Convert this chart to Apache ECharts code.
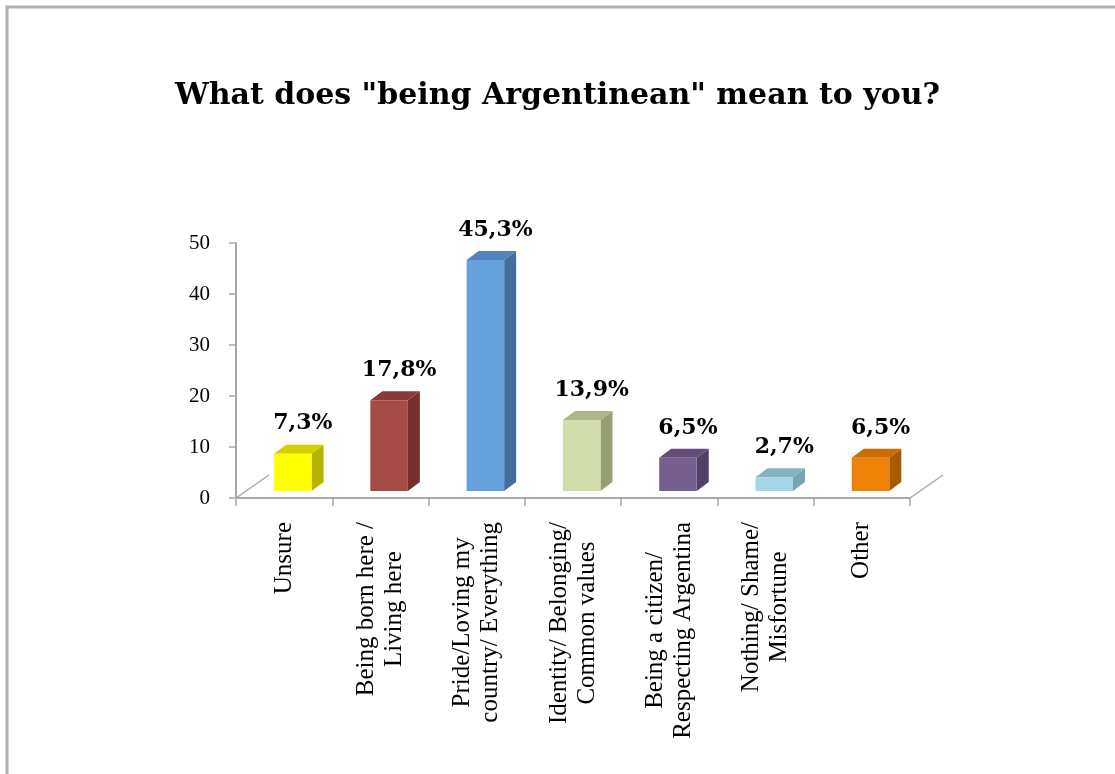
<!DOCTYPE html>
<html>
<head>
<meta charset="utf-8">
<script src="https://cdn.jsdelivr.net/npm/echarts@6/dist/echarts.min.js"></script>
<style>
html,body{margin:0;padding:0;background:#fff;}
#chart{width:1115px;height:774px;}
</style>
</head>
<body>
<div id="chart"></div>
<script>
const titleText = 'What does "being Argentinean" mean to you?';
const categories = [
  'Unsure',
  'Being born here /\nLiving here',
  'Pride/Loving my\ncountry/ Everything',
  'Identity/ Belonging/\nCommon values',
  'Being a citizen/\nRespecting Argentina',
  'Nothing/ Shame/\nMisfortune',
  'Other'
];
const values = [7.3, 17.8, 45.3, 13.9, 6.5, 2.7, 6.5];
const valueLabels = ['7,3%', '17,8%', '45,3%', '13,9%', '6,5%', '2,7%', '6,5%'];
const yMin = 0, yMax = 50, yStep = 10;

const frontColors = ['#FFFF00', '#A54B45', '#64A0DC', '#D0DCAA', '#755F8F', '#A5D6E5', '#EE8208'];
const sideColors  = ['#B8B200', '#76302C', '#436E9C', '#969E72', '#523F66', '#78A4B0', '#A85A00'];
const topColors   = ['#D6CF00', '#8C3A35', '#5383BC', '#AEB68A', '#634C7B', '#86B3C2', '#C96D00'];

const chart = echarts.init(document.getElementById('chart'), null, {renderer: 'canvas'});

function renderBar(params, api) {
  const i = api.value(0);
  const v = api.value(1);
  const base = api.coord([i, 0]);
  const topPt = api.coord([i, v]);
  const band = api.size([1, 0])[0];
  const fw = band * 0.39;
  const shift = band * 0.09;
  const lift = 7, dx = 12, dy = 9;
  const x0 = base[0] + shift - fw / 2, x1 = x0 + fw;
  const yb = base[1] - lift, yt = topPt[1] - lift;
  const children = [
    {type: 'polygon', shape: {points: [[x1, yb], [x1 + dx, yb - dy], [x1 + dx, yt - dy], [x1, yt]]},
     style: {fill: sideColors[i]}},
    {type: 'polygon', shape: {points: [[x0, yt], [x0 + dx, yt - dy], [x1 + dx, yt - dy], [x1, yt]]},
     style: {fill: topColors[i]}},
    {type: 'rect', shape: {x: x0, y: yt, width: fw, height: yb - yt},
     style: {fill: frontColors[i]}},
    {type: 'text', x: (x0 + x1) / 2 + 10, y: yt - dy - 10,
     style: {text: valueLabels[i], align: 'center', verticalAlign: 'bottom',
             font: 'bold 22px "DejaVu Serif"', fill: '#000'}}
  ];
  if (i === 0) {
    children.push({type: 'line', shape: {x1: base[0] - band / 2, y1: base[1], x2: base[0] - band / 2 + 33, y2: base[1] - 23},
      style: {stroke: '#A8A8A8', lineWidth: 1.5}});
  }
  if (i === categories.length - 1) {
    children.push({type: 'line', shape: {x1: base[0] + band / 2, y1: base[1], x2: base[0] + band / 2 + 33, y2: base[1] - 23},
      style: {stroke: '#A8A8A8', lineWidth: 1.5}});
  }
  return {type: 'group', children: children};
}

chart.setOption({
  animation: false,
  backgroundColor: '#fff',
  title: {
    text: titleText,
    left: 'center',
    top: 76,
    textStyle: {fontFamily: 'DejaVu Serif', fontWeight: 'bold', fontSize: 30, color: '#000'}
  },
  graphic: [{
    type: 'polyline',
    shape: {points: [[7, 800], [7, 7], [1200, 7]]},
    style: {stroke: '#B0B0B0', lineWidth: 3, fill: null}
  }],
  grid: {left: 236, right: 205, top: 243, bottom: 276},
  xAxis: {
    type: 'category',
    data: categories,
    axisLine: {lineStyle: {color: '#A8A8A8', width: 2}},
    axisTick: {show: true, length: 8, interval: 0, lineStyle: {color: '#A8A8A8', width: 1.5}},
    axisLabel: {
      interval: 0,
      rotate: 90,
      margin: 24,
      color: '#000',
      formatter: function (v) { return v.split('\n').map(l => '{c|' + l + '}').join('\n'); },
      rich: {c: {align: 'center', fontFamily: 'Liberation Serif', fontSize: 25, lineHeight: 28, color: '#000'}}
    }
  },
  yAxis: {
    type: 'value',
    min: yMin, max: yMax, interval: yStep,
    axisLine: {show: true, lineStyle: {color: '#A8A8A8', width: 2}},
    axisTick: {show: true, length: 7, lineStyle: {color: '#A8A8A8', width: 1.5}},
    splitLine: {show: false},
    axisLabel: {margin: 26, color: '#000', fontFamily: 'Liberation Serif', fontSize: 21}
  },
  series: [{
    type: 'custom',
    clip: false,
    renderItem: renderBar,
    encode: {x: 0, y: 1},
    data: values.map((v, i) => [i, v])
  }]
});
</script>
</body>
</html>
